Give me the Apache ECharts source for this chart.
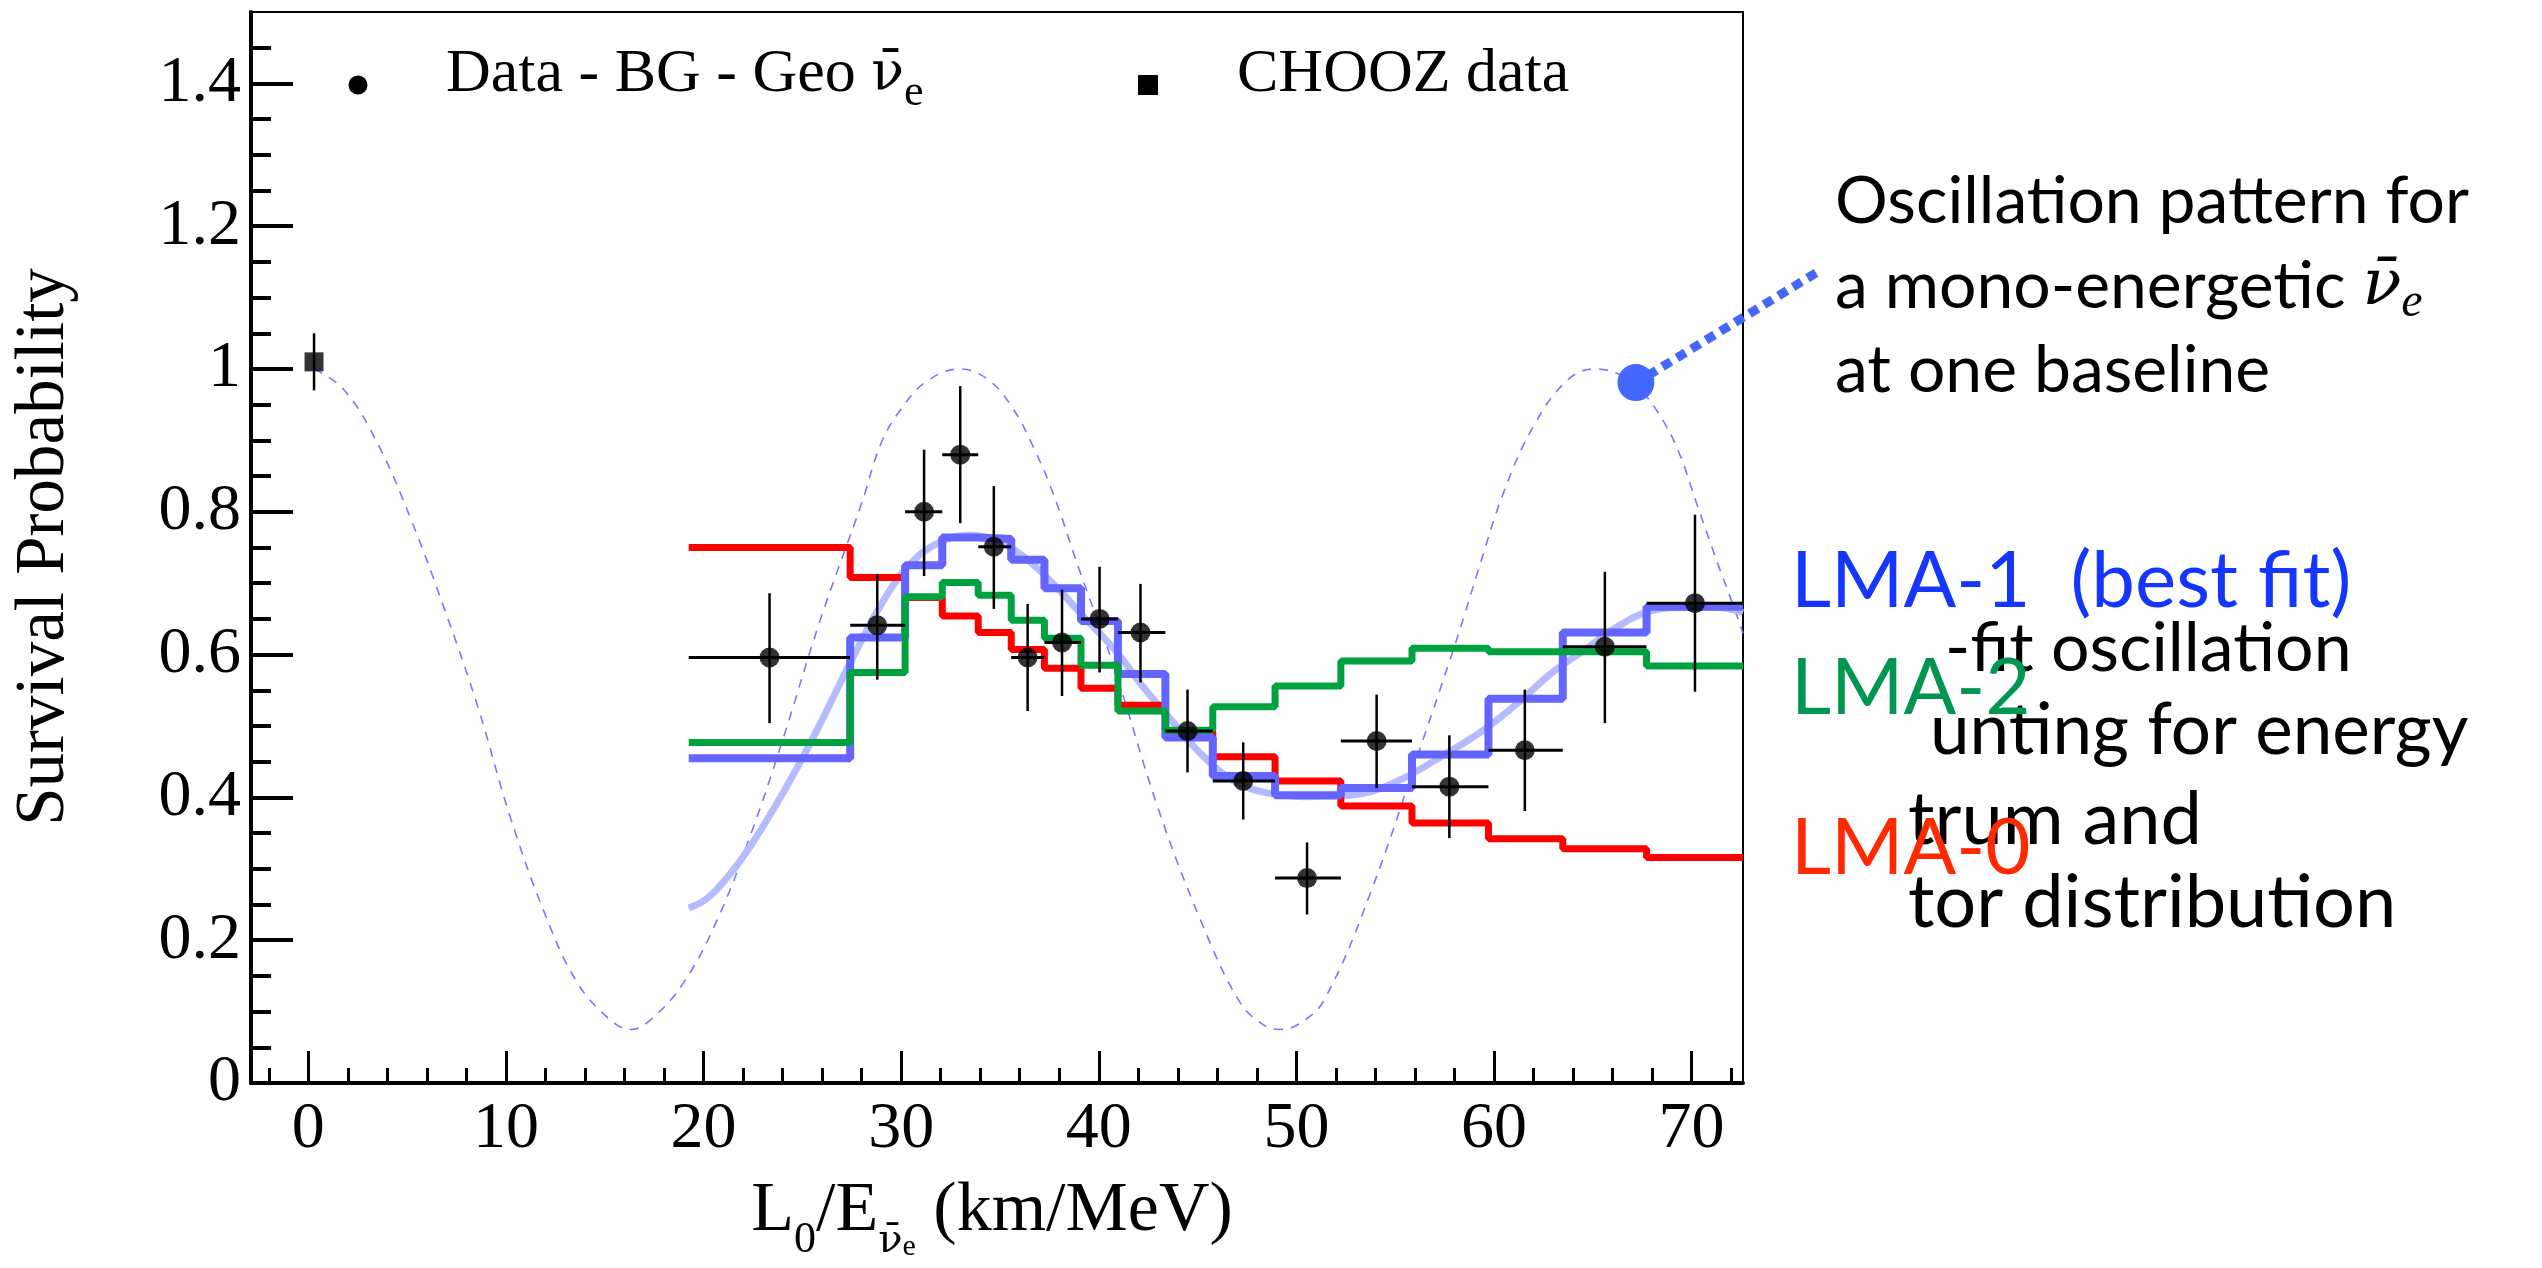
<!DOCTYPE html>
<html>
<head>
<meta charset="utf-8">
<title>Survival probability vs L0/E</title>
<script src="https://cdn.jsdelivr.net/npm/echarts@6.0.0/dist/echarts.min.js"></script>
<style>
  html, body { margin: 0; padding: 0; background: #fff; }
  #chart-panel { width: 2542px; height: 1268px; }
</style>
</head>
<body>
<div id="chart-panel"></div>
<script>
// histogram bin edges, L0/E (km/MeV)
const binEdges = [19.25, 27.42, 30.2, 32.08, 33.9, 35.57, 37.25, 39.1, 40.97, 43.37, 45.77, 48.92, 52.25, 55.85, 59.72, 63.48, 67.72, 72.6]
// expected survival probability per bin
const lma0 = [0.750, 0.708, 0.680, 0.654, 0.631, 0.607, 0.581, 0.553, 0.529, 0.492, 0.457, 0.423, 0.388, 0.364, 0.342, 0.328, 0.316]
const lma1 = [0.455, 0.624, 0.725, 0.764, 0.762, 0.733, 0.693, 0.647, 0.573, 0.484, 0.430, 0.403, 0.413, 0.460, 0.538, 0.631, 0.667]
const lma2 = [0.477, 0.575, 0.681, 0.701, 0.683, 0.648, 0.623, 0.585, 0.521, 0.494, 0.527, 0.556, 0.591, 0.609, 0.604, 0.604, 0.584]

// Data - BG - Geo
const dataX = [23.34, 28.79, 31.16, 32.99, 34.69, 36.40, 38.14, 40.04, 42.11, 44.49, 47.31, 50.54, 54.06, 57.74, 61.56, 65.61, 70.17]
const dataY = [0.596, 0.641, 0.800, 0.880, 0.751, 0.596, 0.617, 0.650, 0.631, 0.493, 0.423, 0.287, 0.479, 0.415, 0.466, 0.611, 0.672]
const dataYLow = [0.504, 0.565, 0.710, 0.784, 0.664, 0.521, 0.542, 0.575, 0.561, 0.435, 0.369, 0.236, 0.413, 0.343, 0.381, 0.504, 0.548]
const dataYHigh = [0.686, 0.713, 0.887, 0.976, 0.836, 0.671, 0.691, 0.723, 0.699, 0.551, 0.477, 0.337, 0.544, 0.487, 0.551, 0.716, 0.796]

// CHOOZ
const choozX = [0.29]
const choozY = [1.010]
const choozYLow = [0.970]
const choozYHigh = [1.050]

// LMA-1 continuous curve
const fitX = [19.25, 20.0, 20.7, 21.5, 22.4, 23.2, 24.1, 25.0, 25.9, 26.7, 27.4, 28.9, 30.4, 31.9, 33.4, 34.8, 36.3, 37.8, 39.3, 40.8, 42.3, 43.8, 45.2, 46.7, 48.2, 50.4, 52.7, 54.9, 57.8, 59.5, 61.2, 62.9, 64.6, 66.3, 67.9, 69.6, 71.3, 72.6]
const fitY = [0.245, 0.255, 0.272, 0.298, 0.333, 0.368, 0.410, 0.455, 0.503, 0.548, 0.587, 0.666, 0.725, 0.757, 0.767, 0.760, 0.735, 0.696, 0.651, 0.607, 0.553, 0.504, 0.460, 0.425, 0.408, 0.401, 0.403, 0.420, 0.465, 0.495, 0.532, 0.574, 0.607, 0.640, 0.661, 0.666, 0.666, 0.659]

// mono-energetic oscillation pattern
const oscX = [0.3, 1.8, 3.5, 5.2, 6.9, 8.6, 10.2, 11.9, 13.6, 15.3, 16.3, 17.3, 19.0, 20.7, 22.4, 24.0, 25.9, 28.0, 29.0, 30.0, 31.3, 33.0, 34.4, 35.6, 36.7, 37.7, 39.0, 40.8, 43.0, 45.2, 47.1, 48.3, 49.2, 50.2, 51.4, 53.8, 56.4, 57.8, 58.5, 59.2, 60.5, 62.0, 63.7, 65.1, 66.3, 67.3, 68.3, 69.3, 70.3, 71.3, 72.0, 72.6]
const oscY = [1.0, 0.971, 0.896, 0.789, 0.663, 0.525, 0.374, 0.242, 0.141, 0.088, 0.075, 0.088, 0.141, 0.229, 0.349, 0.480, 0.648, 0.812, 0.897, 0.944, 0.983, 1.0, 0.985, 0.947, 0.890, 0.825, 0.720, 0.580, 0.385, 0.225, 0.115, 0.082, 0.075, 0.084, 0.116, 0.270, 0.480, 0.595, 0.655, 0.718, 0.828, 0.920, 0.984, 1.0, 0.993, 0.974, 0.939, 0.887, 0.808, 0.729, 0.677, 0.630]

// annotated point on the pattern
const markX = [67.18]
const markY = [0.981]

// axes
const xMajor = [0, 10, 20, 30, 40, 50, 60, 70]
const xMinor = [-2, 2, 4, 6, 8, 12, 14, 16, 18, 22, 24, 26, 28, 32, 34, 36, 38, 42, 44, 46, 48, 52, 54, 56, 58, 62, 64, 66, 68, 72]
const yMajor = [0, 0.2, 0.4, 0.6, 0.8, 1, 1.2, 1.4]
const yMinor = [0.05, 0.1, 0.15, 0.25, 0.3, 0.35, 0.45, 0.5, 0.55, 0.65, 0.7, 0.75, 0.85, 0.9, 0.95, 1.05, 1.1, 1.15, 1.25, 1.3, 1.35, 1.45]

const serif = '"Liberation Serif", "Times New Roman", serif'
const greek = '"DejaVu Serif", serif'
const sans = 'Lato, "Open Sans", sans-serif'

const stepData = (vals) => {
  const d = vals.map((v, i) => [binEdges[i], v])
  d.push([binEdges[vals.length], vals[vals.length - 1]])
  return d
}
const pairs = (xs, ys) => xs.map((x, i) => [x, ys[i]])

const errData = dataX.map((x, i) => [x, dataY[i], binEdges[i], binEdges[i + 1], dataYLow[i], dataYHigh[i]])
  .concat(choozX.map((x, i) => [x, choozY[i], x, x, choozYLow[i], choozYHigh[i]]))

const gridBox = { left: 251, right: 799, top: 12, bottom: 185, outerBoundsMode: 'none' }

const chart = echarts.init(document.getElementById('chart-panel'), null, { renderer: 'canvas' })

const options = {
  backgroundColor: '#fff',
  animation: false,
  grid: [
    Object.assign({ show: true, borderColor: '#000', borderWidth: 2 }, gridBox),
    Object.assign({ show: false }, gridBox)
  ],
  xAxis: [
    {
      type: 'value', gridIndex: 0, min: -2.9, max: 72.6,
      axisLine: { show: true, onZero: false, lineStyle: { color: '#000', width: 4 } },
      axisTick: { show: true, inside: true, length: 32, customValues: xMajor, lineStyle: { color: '#000', width: 3 } },
      axisLabel: { show: true, customValues: xMajor, margin: 14, color: '#000', fontSize: 66, fontFamily: serif },
      splitLine: { show: false }
    },
    {
      type: 'value', gridIndex: 1, min: -2.9, max: 72.6,
      axisLine: { show: false, onZero: false },
      axisTick: { show: true, inside: true, length: 15, customValues: xMinor, lineStyle: { color: '#000', width: 3 } },
      axisLabel: { show: false },
      splitLine: { show: false }
    }
  ],
  yAxis: [
    {
      type: 'value', gridIndex: 0, min: 0, max: 1.5,
      axisLine: { show: true, onZero: false, lineStyle: { color: '#000', width: 4 } },
      axisTick: { show: true, inside: true, length: 42, customValues: yMajor, lineStyle: { color: '#000', width: 4 } },
      axisLabel: {
        show: true, customValues: yMajor, margin: 10, color: '#000', fontSize: 66, fontFamily: serif,
        formatter: (v) => (v === 0 || v === 1 ? String(v) : v.toFixed(1))
      },
      splitLine: { show: false }
    },
    {
      type: 'value', gridIndex: 1, min: 0, max: 1.5,
      axisLine: { show: false, onZero: false },
      axisTick: { show: true, inside: true, length: 20, customValues: yMinor, lineStyle: { color: '#000', width: 4 } },
      axisLabel: { show: false },
      splitLine: { show: false }
    }
  ],
  series: [
    {
      name: 'oscillation', type: 'line', data: pairs(oscX, oscY), smooth: 0.4,
      symbol: 'none', z: 1, silent: true,
      lineStyle: { color: '#7878ff', width: 1.6, type: [9, 8] }
    },
    {
      name: 'LMA-1 curve', type: 'line', data: pairs(fitX, fitY), smooth: 0.4,
      symbol: 'none', z: 2, silent: true,
      lineStyle: { color: '#b4bcff', width: 7 }
    },
    {
      name: 'LMA-0', type: 'line', step: 'end', data: stepData(lma0),
      symbol: 'none', z: 3, lineStyle: { color: '#ff0000', width: 7 }
    },
    {
      name: 'LMA-1', type: 'line', step: 'end', data: stepData(lma1),
      symbol: 'none', z: 4, lineStyle: { color: '#6464ff', width: 8 }
    },
    {
      name: 'LMA-2', type: 'line', step: 'end', data: stepData(lma2),
      symbol: 'none', z: 5, lineStyle: { color: '#00a23f', width: 7 }
    },
    {
      name: 'errors', type: 'custom', data: errData, z: 6, clip: false, silent: true,
      encode: { x: 0, y: 1 },
      renderItem: (params, api) => {
        const x = api.value(0)
        const y = api.value(1)
        const l = api.coord([api.value(2), y])
        const r = api.coord([api.value(3), y])
        const b = api.coord([x, api.value(4)])
        const t = api.coord([x, api.value(5)])
        return {
          type: 'group',
          children: [
            { type: 'line', shape: { x1: l[0], y1: l[1], x2: r[0], y2: r[1] }, style: { stroke: '#000', lineWidth: 3 } },
            { type: 'line', shape: { x1: b[0], y1: b[1], x2: t[0], y2: t[1] }, style: { stroke: '#000', lineWidth: 2.5 } }
          ]
        }
      }
    },
    {
      name: 'Data - BG - Geo', type: 'scatter', data: pairs(dataX, dataY), z: 7,
      symbol: 'circle', symbolSize: 20, itemStyle: { color: '#000' }
    },
    {
      name: 'CHOOZ data', type: 'scatter', data: pairs(choozX, choozY), z: 7,
      symbol: 'rect', symbolSize: 19, itemStyle: { color: '#000' }
    },
    {
      name: 'pointer', type: 'custom', data: pairs(markX, markY), z: 8, clip: false, silent: true,
      encode: { x: 0, y: 1 },
      renderItem: (params, api) => {
        const p = api.coord([api.value(0), api.value(1)])
        return {
          type: 'group',
          children: [
            { type: 'line', shape: { x1: p[0] + 12, y1: p[1] - 7, x2: p[0] + 184, y2: p[1] - 112 },
              style: { stroke: '#4468ff', lineWidth: 9, lineDash: [10, 7] } },
            { type: 'circle', shape: { cx: p[0], cy: p[1], r: 18.5 }, style: { fill: '#4468ff' } }
          ]
        }
      }
    }
  ],
  graphic: [
    // in-frame legend
    { type: 'circle', shape: { cx: 358, cy: 85, r: 9.5 }, style: { fill: '#000' } },
    {
      type: 'text', x: 446, y: 75,
      style: {
        text: '{m|Data - BG - Geo }{nu|ν̄}{s|e}', align: 'left', verticalAlign: 'middle',
        rich: {
          m: { fontSize: 62, fontFamily: serif, fill: '#000', lineHeight: 80 },
          nu: { fontSize: 54, fontFamily: greek, fill: '#000', lineHeight: 80 },
          s: { fontSize: 44, fontFamily: serif, fill: '#000', lineHeight: 40, verticalAlign: 'bottom' }
        }
      }
    },
    { type: 'rect', shape: { x: 1138, y: 75, width: 20, height: 20 }, style: { fill: '#000' } },
    {
      type: 'text', x: 1237, y: 75,
      style: { text: 'CHOOZ data', font: '62px ' + serif, fill: '#000', align: 'left', verticalAlign: 'middle' }
    },
    // axis titles
    {
      type: 'text', x: 45, y: 547, rotation: Math.PI / 2,
      style: { text: 'Survival Probability', font: '69px ' + serif, fill: '#000', align: 'center', verticalAlign: 'middle' }
    },
    {
      type: 'text', x: 992, y: 1212,
      style: {
        text: '{m|L}{s|0}{m|/E}{nu|ν̄}{ss|e}{m| (km/MeV)}', align: 'center', verticalAlign: 'middle',
        rich: {
          m: { fontSize: 70, fontFamily: serif, fill: '#000', lineHeight: 100 },
          s: { fontSize: 44, fontFamily: serif, fill: '#000', lineHeight: 40, verticalAlign: 'bottom' },
          nu: { fontSize: 40, fontFamily: greek, fill: '#000', lineHeight: 30, verticalAlign: 'bottom' },
          ss: { fontSize: 30, fontFamily: serif, fill: '#000', lineHeight: 11, verticalAlign: 'bottom' }
        }
      }
    },
    // annotations on the right
    { type: 'text', x: 1835, y: 202, style: { text: 'Oscillation pattern for', font: '66px ' + sans, fill: '#000', align: 'left', verticalAlign: 'middle' } },
    {
      type: 'text', x: 1835, y: 287,
      style: {
        text: '{m|a mono-energetic }{nu|ν̄}{s|e}', align: 'left', verticalAlign: 'middle',
        rich: {
          m: { fontSize: 66, fontFamily: sans, fill: '#000', lineHeight: 80 },
          nu: { fontSize: 64, fontFamily: greek, fontStyle: 'italic', fill: '#000', lineHeight: 80 },
          s: { fontSize: 48, fontFamily: serif, fontStyle: 'italic', fill: '#000', lineHeight: 44, verticalAlign: 'bottom' }
        }
      }
    },
    { type: 'text', x: 1835, y: 371, style: { text: 'at one baseline', font: '66px ' + sans, fill: '#000', align: 'left', verticalAlign: 'middle' } },
    { type: 'text', x: 1945, y: 649, style: { text: '-fit oscillation', font: '68px ' + sans, fill: '#000', align: 'left', verticalAlign: 'middle' } },
    { type: 'text', x: 1930, y: 731, style: { text: 'unting for energy', font: '71px ' + sans, fill: '#000', align: 'left', verticalAlign: 'middle' } },
    { type: 'text', x: 1908, y: 820, style: { text: 'trum and', font: '74px ' + sans, fill: '#000', align: 'left', verticalAlign: 'middle' } },
    { type: 'text', x: 1908, y: 903, style: { text: 'tor distribution', font: '74px ' + sans, fill: '#000', align: 'left', verticalAlign: 'middle' } },
    { type: 'text', x: 1791, y: 582, z: 10, style: { text: 'LMA-1  (best fit)', font: '78px ' + sans, fill: '#1436ff', align: 'left', verticalAlign: 'middle' } },
    { type: 'text', x: 1791, y: 689, z: 10, style: { text: 'LMA-2', font: '78px ' + sans, fill: '#009650', align: 'left', verticalAlign: 'middle' } },
    { type: 'text', x: 1791, y: 849, z: 10, style: { text: 'LMA-0', font: '78px ' + sans, fill: '#ff2a00', align: 'left', verticalAlign: 'middle' } }
  ]
}
chart.setOption(options)
window.addEventListener('resize', () => chart.resize())
</script>
</body>
</html>
